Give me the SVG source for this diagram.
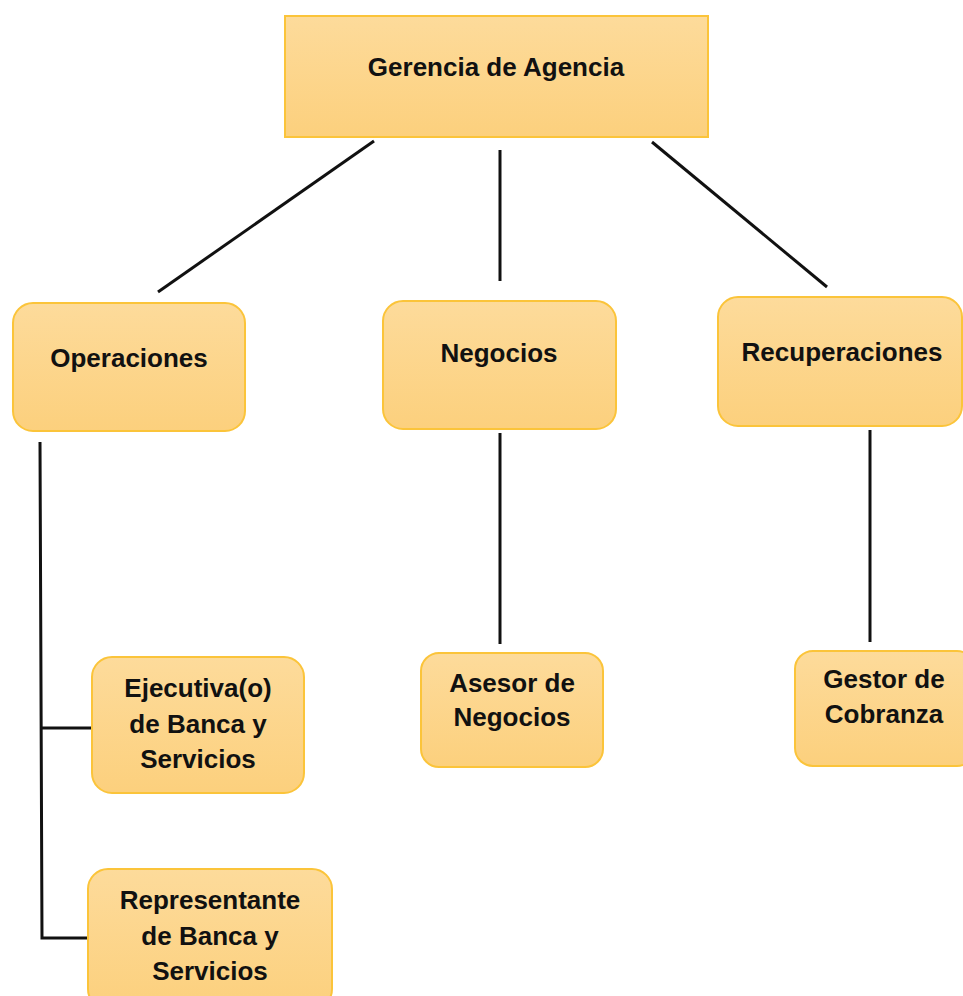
<svg xmlns="http://www.w3.org/2000/svg" width="963" height="996" viewBox="0 0 963 996">
<defs>
<linearGradient id="g" x1="0" y1="0" x2="0" y2="1">
<stop offset="0" stop-color="#FDDB9B"/>
<stop offset="1" stop-color="#FCD07D"/>
</linearGradient>
<style>
.box{fill:url(#g);stroke:#FBC43A;stroke-width:2}
.t{font-family:"Liberation Sans",Arial,sans-serif;font-weight:bold;font-size:26px;fill:#111;text-anchor:middle}
.c{stroke:#111;stroke-width:3;fill:none}
</style>
</defs>
<rect width="963" height="996" fill="#fff"/>
<g id="connectors">
<line class="c" x1="374" y1="141" x2="158" y2="292"/>
<line class="c" x1="500" y1="150" x2="500" y2="281"/>
<line class="c" x1="652" y1="142" x2="827" y2="287"/>
<polyline class="c" points="40,442 42,938 88,938"/>
<line class="c" x1="41" y1="728" x2="92" y2="728"/>
<line class="c" x1="500" y1="433" x2="500" y2="644"/>
<line class="c" x1="870" y1="430" x2="870" y2="642"/>
</g>
<g id="gerencia">
<rect class="box" x="285" y="16" width="423" height="121"/>
<text class="t" x="496" y="76">Gerencia de Agencia</text>
</g>
<g id="operaciones">
<rect class="box" x="13" y="303" width="232" height="128" rx="20"/>
<text class="t" x="129" y="367">Operaciones</text>
</g>
<g id="negocios">
<rect class="box" x="383" y="301" width="233" height="128" rx="20"/>
<text class="t" x="499" y="362">Negocios</text>
</g>
<g id="recuperaciones">
<rect class="box" x="718" y="297" width="244" height="129" rx="20"/>
<text class="t" x="842" y="361">Recuperaciones</text>
</g>
<g id="ejecutiva">
<rect class="box" x="92" y="657" width="212" height="136" rx="20"/>
<text class="t" x="198" y="697">Ejecutiva(o)</text>
<text class="t" x="198" y="733">de Banca y</text>
<text class="t" x="198" y="768">Servicios</text>
</g>
<g id="representante">
<rect class="box" x="88" y="869" width="244" height="140" rx="20"/>
<text class="t" x="210" y="909">Representante</text>
<text class="t" x="210" y="945">de Banca y</text>
<text class="t" x="210" y="980">Servicios</text>
</g>
<g id="asesor">
<rect class="box" x="421" y="653" width="182" height="114" rx="18"/>
<text class="t" x="512" y="692">Asesor de</text>
<text class="t" x="512" y="726">Negocios</text>
</g>
<g id="gestor">
<rect class="box" x="795" y="651" width="180" height="115" rx="18"/>
<text class="t" x="884" y="688">Gestor de</text>
<text class="t" x="884" y="723">Cobranza</text>
</g>
</svg>
